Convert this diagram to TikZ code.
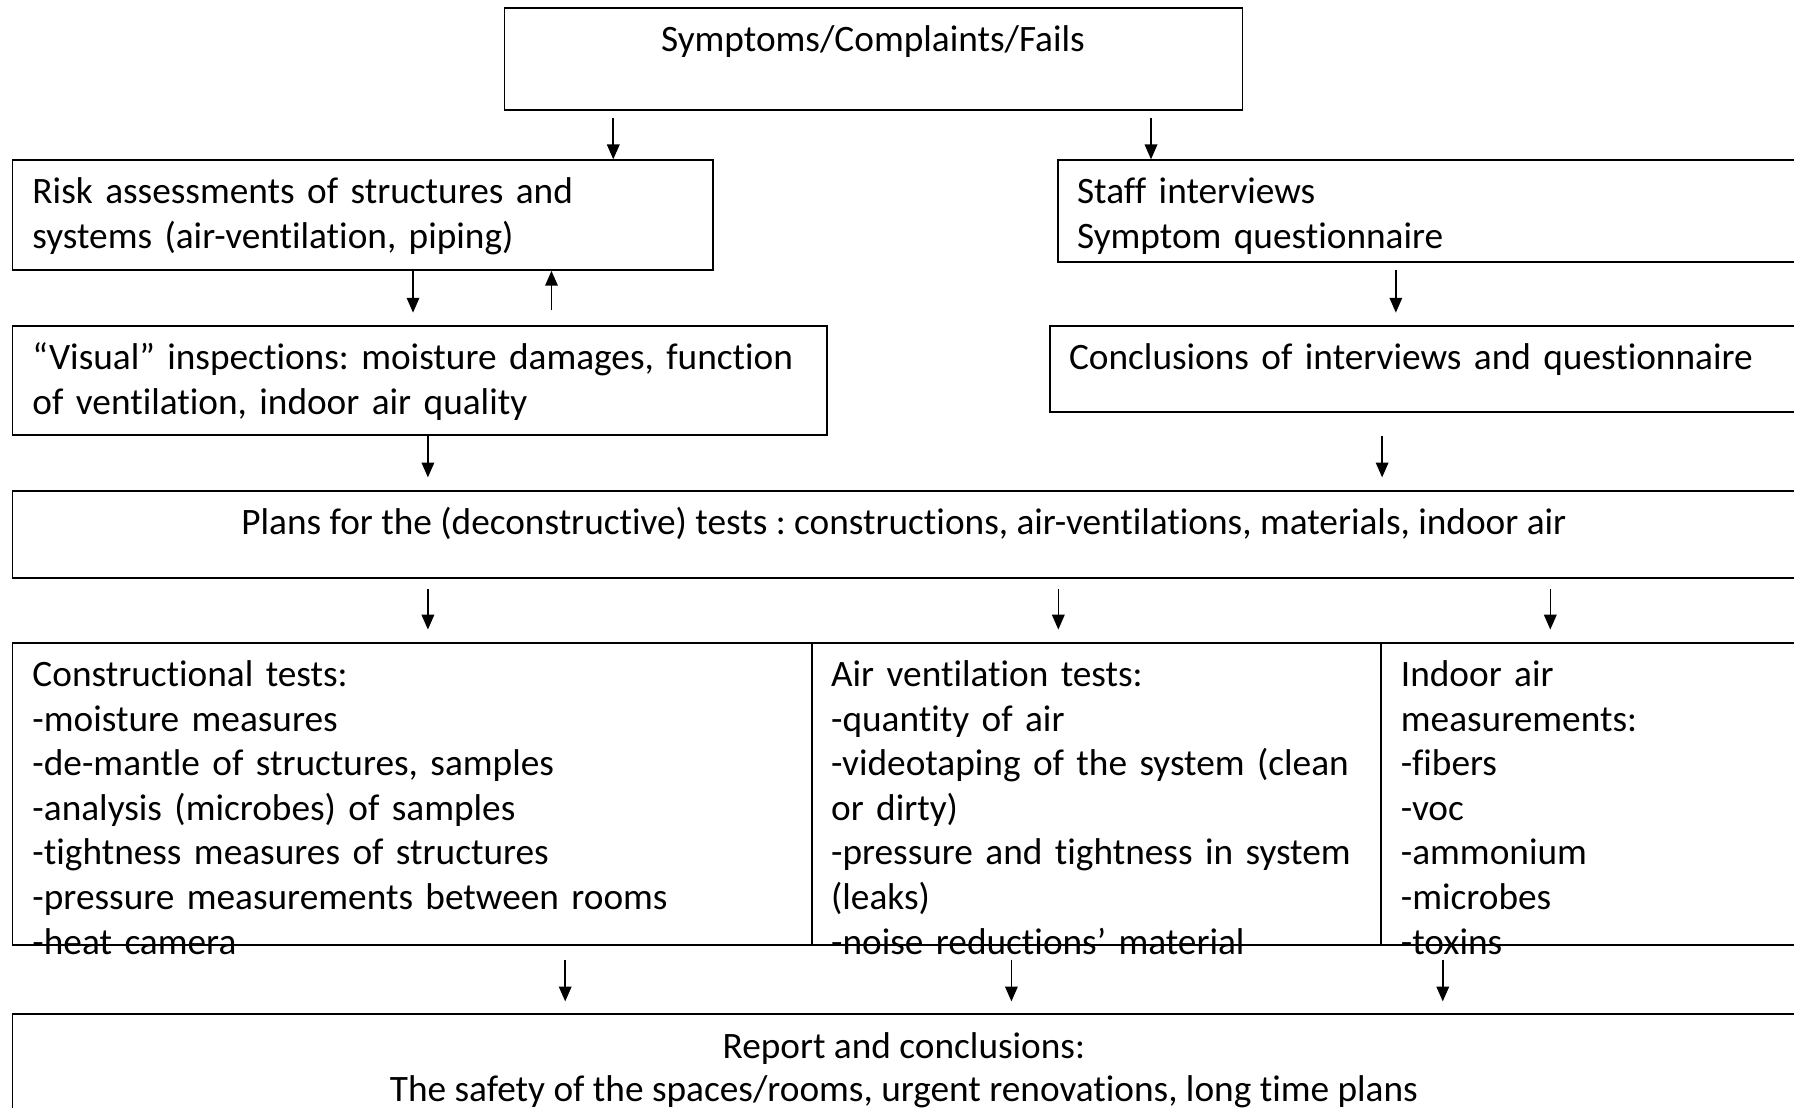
\documentclass[tikz,border=0pt]{standalone}
\usepackage{fontspec}
\setmainfont[Ligatures={NoCommon,NoDiscretionary}]{Carlito}
\usetikzlibrary{arrows.meta,fit,calc}
\frenchspacing
\begin{document}
\begin{tikzpicture}[x=0.5pt,y=-0.5pt,
  box/.style={draw,line width=0.75pt,inner sep=0pt,fit={#1}},
  txt/.style={inner sep=0pt,font=\fontsize{16.3}{19.5}\selectfont,text width=380pt,align=left,anchor=base west},
  ctxt/.style={inner sep=0pt,font=\fontsize{16.3}{19.5}\selectfont,anchor=base},
  arr/.style={-{Triangle[length=6.5pt,width=5.5pt]},line width=0.7pt}
]
\useasboundingbox (0,0) rectangle (1568,968);
\clip (0,0) rectangle (1568,968);

% boxes
\node[box={(441,7) (1086,96)}] (top) {};
\node[box={(11,140) (623,236)}] (risk) {};
\node[box={(925,140) (1590,229)}] (staff) {};
\node[box={(11,285) (723,380)}] (visual) {};
\node[box={(918,285) (1590,360)}] (conc) {};
\node[box={(11,429) (1590,505)}] (plans) {};
\node[box={(11,562) (710,826)}] (testA) {};
\node[box={(710,562) (1207,826)}] (testB) {};
\node[box={(1207,562) (1590,826)}] (testC) {};
\node[box={(11,886) (1590,990)}] (report) {};

% texts
\node[ctxt] (topT) at (763,45) {Symptoms/Complaints/Fails};
\node[txt] (riskT) at (28,178) {Risk assessments of structures and\\systems (air-ventilation, piping)};
\node[txt] (staffT) at (941,178) {Staff interviews\\Symptom questionnaire};
\node[txt] (visualT) at (28,323) {“Visual” inspections: moisture damages, function\\of ventilation, indoor air quality};
\node[txt] (concT) at (934,323) {Conclusions of interviews and questionnaire};
\node[ctxt] (plansT) at (790,467) {Plans for the (deconstructive) tests : constructions, air-ventilations, materials, indoor air};
\node[txt] (testAT) at (28,600) {Constructional tests:\\-moisture measures\\-de-mantle of  structures, samples\\-analysis (microbes) of samples\\-tightness measures of structures\\-pressure measurements between rooms\\-heat camera};
\node[txt] (testBT) at (726,600) {Air ventilation tests:\\-quantity of air\\-videotaping of the system (clean\\or dirty)\\-pressure and tightness in system\\(leaks)\\-noise reductions’ material};
\node[txt] (testCT) at (1224,600) {Indoor air\\measurements:\\-fibers\\-voc\\-ammonium\\-microbes\\-toxins};
\node[ctxt] (repT1) at (790,925) {Report and conclusions:};
\node[ctxt] (repT2) at (790,963) {The safety of the spaces/rooms, urgent renovations, long time plans};

% arrow x positions
\coordinate (x1) at (536,0);
\coordinate (x2) at (1006,0);
\coordinate (x3) at (361,0);
\coordinate (x4) at (482,0);
\coordinate (x5) at (1220,0);
\coordinate (x6) at (374,0);
\coordinate (x7) at (1208,0);
\coordinate (x8) at (925,0);
\coordinate (x9) at (1355,0);
\coordinate (x10) at (494,0);
\coordinate (x11) at (884,0);
\coordinate (x12) at (1261,0);

% arrows
\draw[arr] ($(top.south -| x1)+(0,6)$) -- (risk.north -| x1);
\draw[arr] ($(top.south -| x2)+(0,6)$) -- (staff.north -| x2);
\draw[arr] (risk.south -| x3) -- ($(visual.north -| x3)+(0,-11)$);
\draw[arr] ($(visual.north -| x4)+(0,-13)$) -- (risk.south -| x4);
\draw[arr] ($(staff.south -| x5)+(0,6)$) -- ($(conc.north -| x5)+(0,-11)$);
\draw[arr] (visual.south -| x6) -- ($(plans.north -| x6)+(0,-11)$);
\draw[arr] ($(conc.south -| x7)+(0,20)$) -- ($(plans.north -| x7)+(0,-11)$);
\draw[arr] ($(plans.south -| x6)+(0,9)$) -- ($(testA.north -| x6)+(0,-11)$);
\draw[arr] ($(plans.south -| x8)+(0,9)$) -- ($(testB.north -| x8)+(0,-11)$);
\draw[arr] ($(plans.south -| x9)+(0,9)$) -- ($(testC.north -| x9)+(0,-11)$);
\draw[arr] ($(testA.south -| x10)+(0,12)$) -- ($(report.north -| x10)+(0,-10)$);
\draw[arr] ($(testB.south -| x11)+(0,12)$) -- ($(report.north -| x11)+(0,-10)$);
\draw[arr] ($(testC.south -| x12)+(0,12)$) -- ($(report.north -| x12)+(0,-10)$);
\end{tikzpicture}
\end{document}
